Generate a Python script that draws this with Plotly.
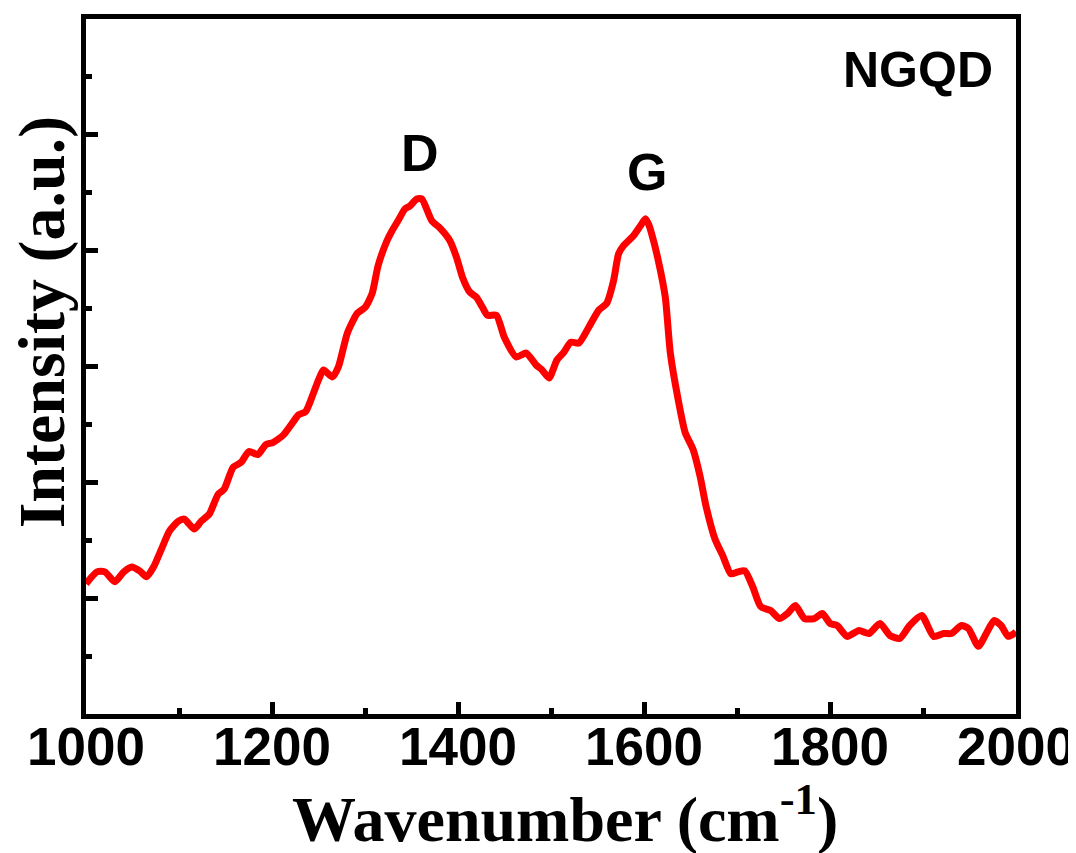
import plotly.graph_objects as go

wavenumber = [1000.0, 1011.8, 1020.3, 1031.0, 1040.6, 1049.1, 1057.7, 1065.2, 1072.7, 1081.2,
              1089.7, 1099.4, 1105.8, 1116.5, 1123.9, 1132.5, 1142.1, 1148.5, 1158.1, 1166.7,
              1175.2, 1184.8, 1193.4, 1200.9, 1212.6, 1222.2, 1228.6, 1236.1, 1244.7, 1250.0,
              1255.4, 1265.0, 1271.4, 1281.0, 1291.7, 1300.2, 1307.7, 1314.1, 1323.7, 1329.1,
              1335.5, 1343.0, 1348.3, 1355.8, 1361.1, 1371.8, 1380.4, 1391.0, 1398.5, 1404.9,
              1412.4, 1419.9, 1426.3, 1431.6, 1441.3, 1449.8, 1462.6, 1473.3, 1484.0, 1490.4,
              1497.9, 1506.4, 1513.9, 1521.4, 1529.9, 1540.6, 1551.3, 1559.8, 1567.3, 1572.7,
              1578.0, 1588.7, 1596.2, 1601.5, 1604.7, 1607.9, 1615.4, 1622.9, 1628.3, 1636.8,
              1644.3, 1652.8, 1660.3, 1666.7, 1676.3, 1684.8, 1693.4, 1700.9, 1708.4, 1716.9,
              1725.5, 1736.1, 1745.8, 1754.3, 1762.8, 1772.5, 1783.1, 1791.7, 1800.2, 1807.7,
              1818.4, 1831.2, 1841.9, 1853.7, 1864.4, 1875.0, 1885.7, 1898.6, 1911.4, 1922.1,
              1930.6, 1941.3, 1948.8, 1959.5, 1968.0, 1976.5, 1984.0, 1991.5, 1997.9, 2000.0]

intensity = [1.124, 1.227, 1.227, 1.142, 1.227, 1.270, 1.236, 1.185, 1.270, 1.425,
             1.579, 1.665, 1.682, 1.597, 1.665, 1.725, 1.897, 1.940, 2.129, 2.172,
             2.266, 2.240, 2.326, 2.343, 2.412, 2.515, 2.584, 2.609, 2.773, 2.884,
             2.970, 2.910, 2.996, 3.288, 3.459, 3.511, 3.631, 3.871, 4.086, 4.172,
             4.258, 4.361, 4.386, 4.446, 4.446, 4.258, 4.197, 4.090, 3.940, 3.768,
             3.645, 3.597, 3.511, 3.442, 3.442, 3.253, 3.082, 3.116, 3.013, 2.970,
             2.901, 3.056, 3.124, 3.210, 3.202, 3.339, 3.485, 3.545, 3.742, 3.974,
             4.043, 4.129, 4.215, 4.275, 4.232, 4.155, 3.914, 3.597, 3.116, 2.712,
             2.429, 2.283, 2.052, 1.794, 1.511, 1.365, 1.210, 1.227, 1.236, 1.099,
             0.927, 0.893, 0.824, 0.867, 0.936, 0.824, 0.824, 0.867, 0.781, 0.764,
             0.670, 0.721, 0.695, 0.781, 0.678, 0.652, 0.764, 0.850, 0.670, 0.695,
             0.695, 0.764, 0.738, 0.584, 0.695, 0.807, 0.764, 0.670, 0.695, 0.710]

x_ticks = [1000, 1200, 1400, 1600, 1800, 2000]
peak_labels = ["D", "G"]
peak_pos = [(1359, 4.84), (1603, 4.68)]
sample_label = "NGQD"

fig = go.Figure()
fig.add_trace(go.Scatter(x=wavenumber, y=intensity, mode="lines",
                         line=dict(color="#ff0000", width=7, shape="spline", smoothing=0.6),
                         showlegend=False))

for lab, (px, py) in zip(peak_labels, peak_pos):
    fig.add_annotation(x=px, y=py, text=f"<b>{lab}</b>", showarrow=False,
                       xanchor="center", yanchor="middle",
                       font=dict(family="Liberation Sans, Arial", size=52, color="black"))

fig.add_annotation(x=0.895, y=0.927, xref="paper", yref="paper", text=f"<b>{sample_label}</b>",
                   showarrow=False, xanchor="center", yanchor="middle",
                   font=dict(family="Liberation Sans, Arial", size=50, color="black"))

fig.add_annotation(x=0.515, y=-0.144, xref="paper", yref="paper",
                   text="<b>Wavenumber (cm<sup>-1</sup>)</b>", showarrow=False,
                   xanchor="center", yanchor="middle",
                   font=dict(family="Liberation Serif, Times New Roman", size=64, color="black"))

fig.add_annotation(x=-0.047, y=0.564, xref="paper", yref="paper",
                   text="<b>Intensity (a.u.)</b>", showarrow=False, textangle=-90,
                   xanchor="center", yanchor="middle",
                   font=dict(family="Liberation Serif, Times New Roman", size=66, color="black"))

fig.update_xaxes(range=[1000, 2000], tickvals=x_ticks, ticktext=[str(v) for v in x_ticks],
                 ticks="inside", ticklen=12, tickwidth=5, tickcolor="black",
                 showline=True, linewidth=5, linecolor="black", mirror=True,
                 showgrid=False, zeroline=False, automargin=False, ticklabelstandoff=-18,
                 tickfont=dict(family="Liberation Sans, Arial", size=53, color="black", weight="bold"),
                 minor=dict(tickvals=[1100, 1300, 1500, 1700, 1900], ticks="inside", ticklen=6,
                            tickwidth=5, tickcolor="black", showgrid=False))

fig.update_yaxes(range=[0, 6], tickvals=[1, 2, 3, 4, 5], showticklabels=False,
                 ticks="inside", ticklen=12, tickwidth=5, tickcolor="black",
                 showline=True, linewidth=5, linecolor="black", mirror=True,
                 showgrid=False, zeroline=False, automargin=False,
                 minor=dict(tickvals=[0.5, 1.5, 2.5, 3.5, 4.5, 5.5], ticks="inside", ticklen=6,
                            tickwidth=5, tickcolor="black", showgrid=False))

fig.update_layout(width=1076, height=853, margin=dict(l=78, r=68, t=11, b=147),
                  plot_bgcolor="white", paper_bgcolor="white")

fig.write_html("out.html")
